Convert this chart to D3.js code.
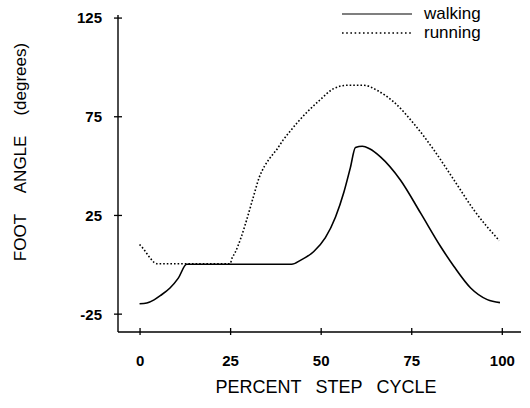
<!DOCTYPE html>
<html>
<head>
<meta charset="utf-8">
<script src="https://cdn.jsdelivr.net/npm/d3@7"></script>
<style>
html,body{margin:0;padding:0;background:#fff;}
svg{display:block;}
text{font-family:"Liberation Sans",Arial,Helvetica,sans-serif;fill:#000;}
</style>
</head>
<body>
<svg id="chart" width="530" height="408"></svg>
<script>
// ---- data ----
const walkingPct = [0, 2, 4, 5.7, 8.4, 10.7, 13, 42, 44.4, 48.1, 51.3, 54.1, 56.4, 58.2, 59.6, 61.5, 63.5, 66.5, 72, 77.6, 83.1, 86.8, 91.4, 96, 99.5];
const walkingAngle = [-20, -19.6, -18, -15.9, -12, -7, 0, 0, 2, 6.5, 13.5, 24, 36.5, 49, 59.2, 59.8, 58.5, 54.4, 42.7, 25.9, 9, -1.1, -12, -17.9, -19.4];
const runningPct = [0, 1, 2, 3, 4, 4.8, 25, 25.5, 26.4, 28.1, 29.7, 31.3, 33.1, 34.5, 36.1, 37.9, 39.6, 41.2, 43.7, 46.3, 49.7, 53.6, 57.3, 61.9, 65.6, 70.2, 75.7, 81.3, 86.8, 92.3, 99.3];
const runningAngle = [10, 8, 5.5, 3, 1, 0.3, 0.3, 3, 6, 14, 23.3, 33.4, 44.3, 49.7, 54.1, 58.2, 62.9, 66.6, 72.1, 77.2, 83.1, 89, 90.7, 90.7, 88.1, 82.2, 71.3, 57.8, 42.7, 27.5, 12];
const xTicks = [0, 25, 50, 75, 100];
const yTicks = [-25, 25, 75, 125];
const seriesNames = ["walking", "running"];

// ---- scales ----
const x = d3.scaleLinear().domain([-5.95, 105.3]).range([118, 521]);
const y = d3.scaleLinear().domain([-34.3, 126.3]).range([332, 15]);

const svg = d3.select("#chart");

// axes lines
svg.append("line").attr("x1", x(-5.95)).attr("x2", x(-5.95)).attr("y1", y(126.3)).attr("y2", y(-34.3))
  .attr("stroke", "#000").attr("stroke-width", 1.4);
svg.append("line").attr("x1", x(-5.95)).attr("x2", x(105.3)).attr("y1", y(-34.3)).attr("y2", y(-34.3))
  .attr("stroke", "#000").attr("stroke-width", 1.4);

// y axis ticks (crosses) and labels
const yAxis = d3.axisLeft(y).tickValues(yTicks).tickSize(0).tickFormat(d => d);
const gy = svg.append("g").attr("transform", `translate(${x(-5.95)},0)`).call(yAxis);
gy.select(".domain").remove();
gy.selectAll(".tick").append("line").attr("x1", -4).attr("x2", 4).attr("stroke", "#000").attr("stroke-width", 1.3);
gy.selectAll(".tick text").attr("x", -16).attr("dy", "0.36em")
  .style("font-size", "15px").style("font-weight", "bold").style("font-family", '"Liberation Sans",Arial,sans-serif');

// x axis ticks and labels
const xAxis = d3.axisBottom(x).tickValues(xTicks).tickSize(0).tickFormat(d => d);
const gx = svg.append("g").attr("transform", `translate(0,${y(-34.3)})`).call(xAxis);
gx.select(".domain").remove();
gx.selectAll(".tick").append("line").attr("y1", -4).attr("y2", 3).attr("stroke", "#000").attr("stroke-width", 1.3);
gx.selectAll(".tick text").attr("y", 34).attr("dy", 0)
  .style("font-size", "15px").style("font-weight", "bold").style("font-family", '"Liberation Sans",Arial,sans-serif');

// lines
const line = d3.line().x(d => x(d[0])).y(d => y(d[1])).curve(d3.curveMonotoneX);
const walking = walkingPct.map((p, i) => [p, walkingAngle[i]]);
const running = runningPct.map((p, i) => [p, runningAngle[i]]);

svg.append("path").datum(walking).attr("d", line)
  .attr("fill", "none").attr("stroke", "#000").attr("stroke-width", 1.6);
svg.append("path").datum(running).attr("d", line)
  .attr("fill", "none").attr("stroke", "#000").attr("stroke-width", 1.6).attr("stroke-dasharray", "1.6 2");

// legend
const lg = svg.append("g");
seriesNames.forEach((name, i) => {
  const ly = 14 + i * 19;
  lg.append("line").attr("x1", 342).attr("x2", 412).attr("y1", ly).attr("y2", ly)
    .attr("stroke", "#000").attr("stroke-width", i === 0 ? 1.1 : 1.6)
    .attr("stroke-dasharray", i === 0 ? null : "1.6 2.6");
  lg.append("text").attr("x", 424).attr("y", ly + 4.5).style("font-size", "17px").text(name);
});

// axis titles
const xt = svg.append("text").attr("x", 326).attr("y", 393).attr("text-anchor", "middle").style("font-size", "18px");
xt.append("tspan").text("PERCENT");
xt.append("tspan").attr("dx", 14).text("STEP");
xt.append("tspan").attr("dx", 14).text("CYCLE");

const yt = svg.append("text").attr("transform", "translate(26,152) rotate(-90)").attr("text-anchor", "middle").style("font-size", "17px");
yt.append("tspan").text("FOOT");
yt.append("tspan").attr("dx", 22).text("ANGLE");
yt.append("tspan").attr("dx", 20).text("(degrees)");
</script>
</body>
</html>
